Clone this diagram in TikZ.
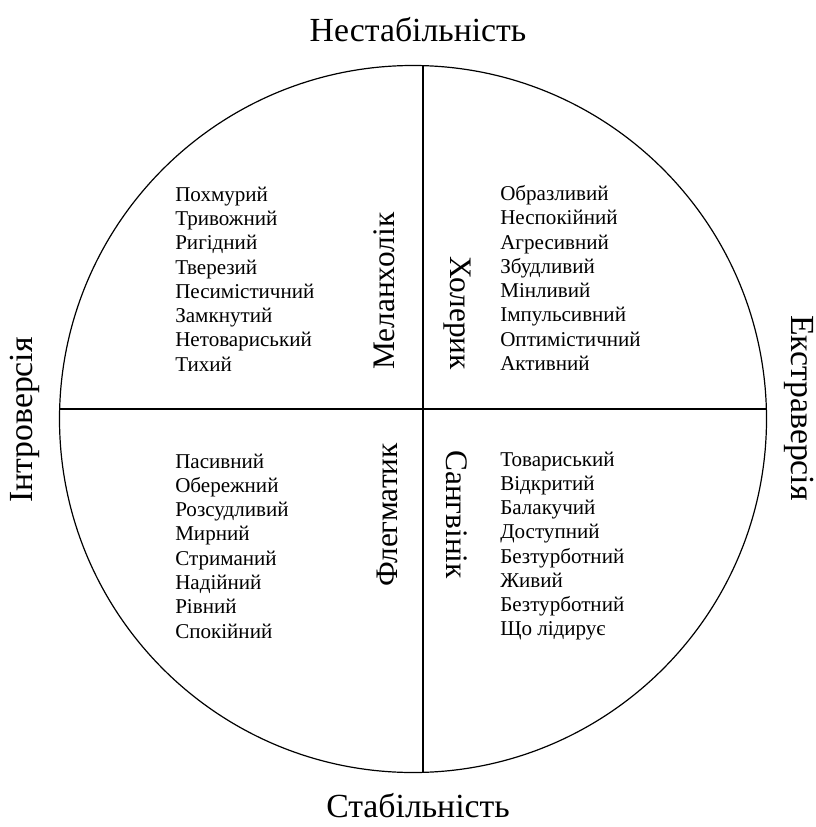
\documentclass[tikz,border=0pt]{standalone}
\usepackage{fontspec}
\setmainfont{Liberation Serif}
\usetikzlibrary{positioning}

\begin{document}
\begin{tikzpicture}[x=0.75pt,y=-0.75pt,
    axislabel/.style={font=\fontsize{25.3}{29}\selectfont, inner sep=0pt},
    typelabel/.style={font=\fontsize{23.5}{27}\selectfont, inner sep=0pt},
    traits/.style={font=\fontsize{15.8}{18.2}\selectfont, align=left, anchor=west, inner sep=0pt}]
    \useasboundingbox (0,0) rectangle (816,827);
    \draw[line width=0.9pt] (413,419) circle (353.5);
    \coordinate (top) at (423,65.6);
    \coordinate (bottom) at (423,772.4);
    \coordinate (left) at (59.6,409);
    \coordinate (right) at (766.4,409);
    \draw[line width=0.9pt] (top) -- (bottom);
    \draw[line width=0.9pt] (left) -- (right);
    % axis labels
    \node[axislabel] (unstable) at (418,30) {Нестабільність};
    \node[axislabel] (stable) at (418,806) {Стабільність};
    \node[axislabel, rotate=90] (intro) at (25,420) {Інтроверсія};
    \node[axislabel, rotate=-90] (extra) at (799,408) {Екстраверсія};
    % temperaments
    \node[typelabel, rotate=90, anchor=west] (melan) at (384,370) {Меланхолік};
    \node[typelabel, rotate=-90, anchor=east] (chol) at (457,370) {Холерик};
    \node[typelabel, rotate=90, anchor=east] (phleg) at (387,443) {Флегматик};
    \node[typelabel, rotate=-90, anchor=west] (sang) at (457,450) {Сангвінік};
    % traits
    \node[traits] (melantraits) at (175,279) {Похмурий\\Тривожний\\Ригідний\\Тверезий\\Песимістичний\\Замкнутий\\Нетовариський\\Тихий};
    \node[traits] (choltraits) at (500,278) {Образливий\\Неспокійний\\Агресивний\\Збудливий\\Мінливий\\Імпульсивний\\Оптимістичний\\Активний};
    \node[traits] (phlegtraits) at (175,546) {Пасивний\\Обережний\\Розсудливий\\Мирний\\Стриманий\\Надійний\\Рівний\\Спокійний};
    \node[traits] (sangtraits) at (500,546) {Товариський\\Відкритий\\Балакучий\\Доступний\\Безтурботний\\Живий\\Безтурботний\\Що лідирує};
\end{tikzpicture}
\end{document}
